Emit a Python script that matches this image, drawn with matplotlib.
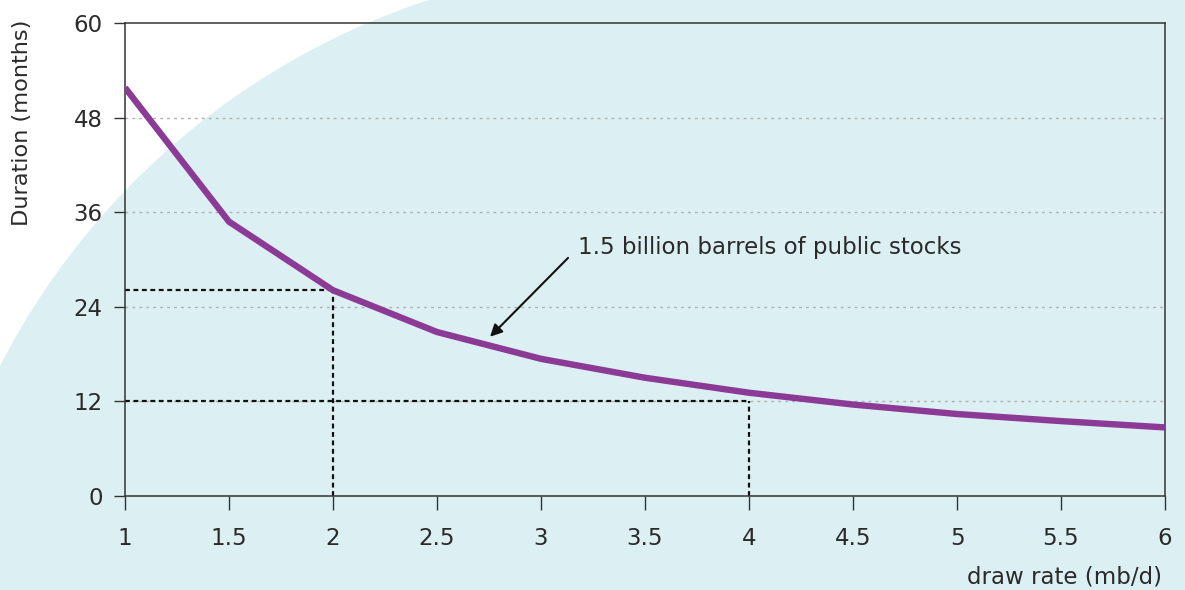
import numpy as np
import matplotlib.pyplot as plt
from matplotlib.patches import Polygon

# ---- data ----
draw_rate = [1, 1.5, 2, 2.5, 3, 3.5, 4, 4.5, 5, 5.5, 6]
duration = [51.8, 34.8, 26.1, 20.8, 17.4, 15.0, 13.1, 11.6, 10.4, 9.5, 8.7]
guide_x = [2, 4]
guide_y = [26.1, 12]
yticks = [0, 12, 24, 36, 48, 60]
xticks = [1, 1.5, 2, 2.5, 3, 3.5, 4, 4.5, 5, 5.5, 6]
xticklabels = ['1', '1.5', '2', '2.5', '3', '3.5', '4', '4.5', '5', '5.5', '6']

plt.rcParams['font.family'] = ['DejaVu Sans']
W, H = 1185, 590
blue = '#dcf0f3'
purple = '#8b3a96'
txt = '#2a2a2a'

fig = plt.figure(figsize=(W / 100, H / 100), dpi=100)
fig.patch.set_facecolor(blue)

# background: white corner cut by a big arc (pixel coords)
bg = fig.add_axes([0, 0, 1, 1], zorder=0)
bg.set_xlim(0, W); bg.set_ylim(H, 0); bg.axis('off')
cx, cy, R = 660, 705, 742
t = np.linspace(np.arccos((0 - cx) / R), np.arccos((430 - cx) / R), 100)
arc = np.column_stack([cx + R * np.cos(t), cy - R * np.sin(t)])
arc = arc[arc[:, 1] >= 0]
pts = np.vstack([[[0, 0]], arc, [[430, 0]]])
bg.add_patch(Polygon(pts, closed=True, facecolor='white', edgecolor='none'))

ax = fig.add_axes([125 / W, 1 - 496 / H, 1040 / W, 473 / H], zorder=1)
ax.set_facecolor('none')
ax.set_xlim(1, 6); ax.set_ylim(0, 60)

for g in yticks[1:-1]:
    ax.axhline(g, color='#b0b0b0', lw=1, ls=(0, (2, 3)), zorder=1)

# guide lines
dash = dict(color='#111111', lw=1.6, ls=(0, (2.2, 1.6)), zorder=2)
ax.plot([1, guide_x[0]], [guide_y[0], guide_y[0]], **dash)
ax.plot([guide_x[0], guide_x[0]], [0, guide_y[0]], **dash)
ax.plot([1, guide_x[1]], [guide_y[1], guide_y[1]], **dash)
ax.plot([guide_x[1], guide_x[1]], [0, guide_y[1]], **dash)

ax.plot(draw_rate, duration, color=purple, lw=4.6, solid_capstyle='butt', zorder=3)

ax.annotate('', xy=(2.755, 20.2), xytext=(3.13, 30.2),
            arrowprops=dict(arrowstyle='-|>', color='#111111', lw=1.5, mutation_scale=18,
                            shrinkA=0, shrinkB=0))
ax.text(3.18, 31.5, '1.5 billion barrels of public stocks', fontsize=16.5, color=txt,
        ha='left', va='center')

ax.set_yticks(yticks)
ax.set_xticks(xticks)
ax.set_xticklabels(xticklabels)
ax.tick_params(axis='y', direction='out', length=8, width=1, color='#333333',
               labelsize=16.5, labelcolor=txt, pad=8)
ax.tick_params(axis='x', direction='out', length=10, width=1, color='#333333',
               labelsize=16.5, labelcolor=txt, pad=12)
for s in ax.spines.values():
    s.set_color('#333333'); s.set_linewidth(1.1)

fig.text(22 / W, 1 - 20 / H, 'Duration (months)', rotation=90, ha='center', va='top',
         fontsize=16.2, color=txt)
fig.text(1162 / W, 1 - 577 / H, 'draw rate (mb/d)', ha='right', va='center',
         fontsize=16.5, color=txt)

fig.savefig('out.png', dpi=100, facecolor=fig.get_facecolor())
